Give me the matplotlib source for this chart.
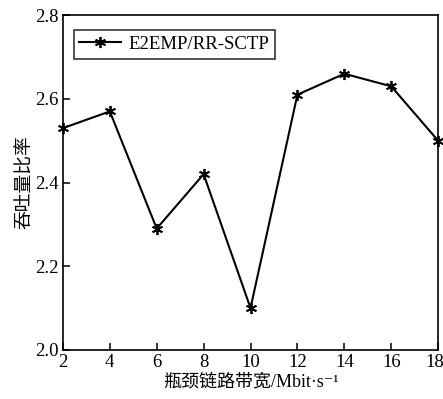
import matplotlib
matplotlib.use('Agg')
import matplotlib.pyplot as plt
import matplotlib.transforms as mtransforms

# bottleneck bandwidth vs throughput ratio
bandwidth = [2, 4, 6, 8, 10, 12, 14, 16, 18]
ratio = [2.53, 2.57, 2.29, 2.42, 2.10, 2.61, 2.66, 2.63, 2.50]
xticks = [2, 4, 6, 8, 10, 12, 14, 16, 18]
yticks = [2.0, 2.2, 2.4, 2.6, 2.8]

plt.rcParams['font.family'] = ['Liberation Serif', 'Noto Sans CJK SC', 'DejaVu Serif']

fig = plt.figure(figsize=(4.43, 3.99), dpi=100)
ax = fig.add_axes([0.142, 0.123, 0.847, 0.839])

ax.plot(bandwidth, ratio, color='black', linewidth=1.5,
        marker=(6, 2, 0), markersize=8, markeredgewidth=1.3,
        label='E2EMP/RR-SCTP', clip_on=False, zorder=3)

ax.set_xlim(2, 18)
ax.set_ylim(2.0, 2.8)
ax.set_xticks(xticks)
ax.set_yticks(yticks)
ax.set_yticklabels(['{:.1f}'.format(v) for v in yticks])
ax.tick_params(direction='in', length=5, width=1.1, labelsize=13.5, pad=3)
for s in ax.spines.values():
    s.set_linewidth(1.2)

# pull the last x label inside the figure
lab = ax.get_xticklabels()[-1]
lab.set_transform(lab.get_transform() +
                  mtransforms.ScaledTranslation(-3 / 100, 0, fig.dpi_scale_trans))

ax.set_xlabel('瓶颈链路带宽/Mbit·s⁻¹', fontsize=13, labelpad=2)
ax.set_ylabel('吞吐量比率', fontsize=13.5, labelpad=1)

leg = ax.legend(loc='upper left', fontsize=13.5, frameon=True, fancybox=False,
                edgecolor='black', borderpad=0.3, handlelength=2.2,
                handletextpad=0.4, bbox_to_anchor=(0.004, 0.983))
leg.get_frame().set_linewidth(1.2)

fig.savefig('out.png', dpi=100)
